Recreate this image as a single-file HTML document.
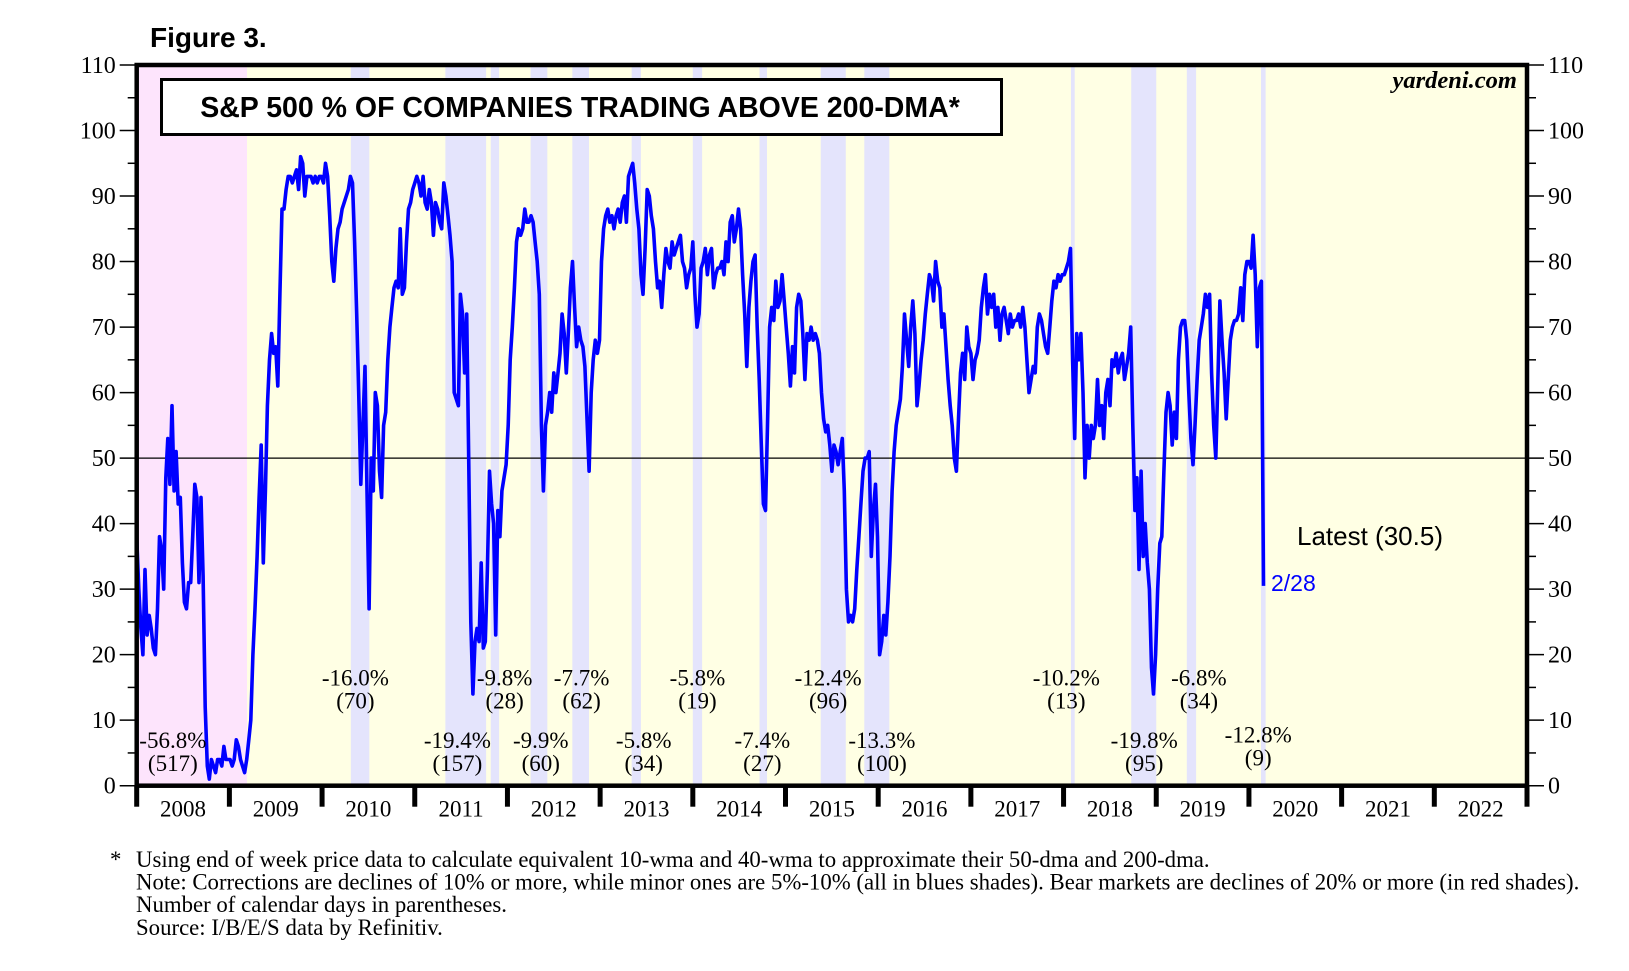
<!DOCTYPE html>
<html><head><meta charset="utf-8"><style>
html,body{margin:0;padding:0;background:#fff;}
svg{display:block;}
</style></head><body>
<svg id="chart" width="1629" height="971" viewBox="0 0 1629 971" xmlns="http://www.w3.org/2000/svg">
<g id="bg"></g>
<g id="bands"></g>
<g id="grid"></g>
<g id="series"></g>
<g id="annos"></g>
<g id="axes"></g>
<text x="150" y="47" font-family="Liberation Sans, sans-serif" font-weight="bold" font-size="28">Figure 3.</text>
<rect x="161.5" y="79.5" width="840" height="55" fill="#fff" stroke="#000" stroke-width="3"/>
<text x="580" y="117" text-anchor="middle" font-family="Liberation Sans, sans-serif" font-weight="bold" font-size="28.5">S&amp;P 500 % OF COMPANIES TRADING ABOVE 200-DMA*</text>
<text x="1517" y="88" text-anchor="end" font-family="Liberation Serif, serif" font-style="italic" font-weight="bold" font-size="24.5">yardeni.com</text>
<text x="1297" y="545" font-family="Liberation Sans, sans-serif" font-size="26">Latest (30.5)</text>
<text x="1271" y="591" fill="#0000ff" font-family="Liberation Sans, sans-serif" font-size="23">2/28</text>
<g font-family="Liberation Serif, serif" font-size="22.8">
<text x="110" y="867">*</text>
<text x="136" y="867">Using end of week price data to calculate equivalent 10-wma and 40-wma to approximate their 50-dma and 200-dma.</text>
<text x="136" y="889.5">Note: Corrections are declines of 10% or more, while minor ones are 5%-10% (all in blues shades). Bear markets are declines of 20% or more (in red shades).</text>
<text x="136" y="912">Number of calendar days in parentheses.</text>
<text x="136" y="935">Source: I/B/E/S data by Refinitiv.</text>
</g>
</svg>
<script>
const startYear = 2008.0;
const weekStep = 0.022389;
const values = [38,30,24,20,33,23,26,24,21,20,27,38,36,30,47,53,46,58,45,51,43,44,34,28,27,31,31,38,46,44,31,44,32,12,3,1,4,3,2,4,4,3,6,4,4,4,3,4,7,6,4,3,2,4,7,10,20,27,35,44,52,34,45,58,
65,69,66,67,61,75,88,88,91,93,93,92,93,94,91,96,95,90,93,93,93,92,93,92,93,93,92,95,93,87,80,77,82,85,86,88,89,90,91,93,92,83,72,60,46,55,64,45,27,50,45,60,58,48,44,55,57,65,70,73,76,77,76,85,75,76,83,88,89,91,92,93,92,90,93,89,88,91,89,84,89,88,86,85,92,90,87,84,80,60,59,58,75,72,63,72,50,25,14,22,24,22,34,21,22,33,48,43,40,23,42,38,45,47,49,55,65,70,76,83,85,84,85,88,86,86,87,86,83,80,75,55,45,55,57,60,57,63,60,63,66,72,69,63,69,76,80,73,67,70,68,67,64,56,48,60,65,68,66,68,80,85,87,88,86,87,85,87,88,86,89,90,86,93,94,95,92,88,85,78,75,82,91,90,87,85,80,76,77,73,78,82,80,79,83,81,82,83,84,80,79,76,78,79,83,75,70,72,79,80,82,78,81,82,76,78,79,79,80,78,83,80,86,87,83,85,88,85,78,72,64,73,77,80,81,70,62,52,43,42,55,70,73,71,77,73,74,78,74,70,66,61,67,63,73,75,74,69,62,69,68,70,68,69,68,66,60,56,54,55,52,48,52,51,49,51,53,45,30,25,26,25,27,33,38,43,48,50,50,51,35,42,46,38,20,22,26,23,28,35,45,51,55,57,59,64,72,68,64,70,74,69,58,61,65,68,72,75,78,77,74,80,77,76,70,72,67,62,58,55,50,48,56,63,66,62,70,67,66,62,65,66,68,73,76,78,72,75,73,75,70,73,68,72,73,71,69,72,70,71,71,72,70,73,70,65,60,62,64,63,70,72,71,69,67,66,70,74,77,76,78,77,78,78,79,80,82,65,53,69,65,69,60,47,55,50,55,53,55,62,55,58,53,60,62,58,65,64,66,63,65,66,62,64,66,70,55,42,47,33,48,35,40,34,30,18,14,20,30,37,38,48,57,60,58,52,57,53,65,70,71,71,68,60,53,49,55,62,68,70,72,75,73,75,63,55,50,62,74,68,63,56,62,68,70,71,71,72,76,71,78,80,80,79,84,78,67,76,77,30.5];
const yTicks = [0,10,20,30,40,50,60,70,80,90,100,110];
const yearLabels = ["2008","2009","2010","2011","2012","2013","2014","2015","2016","2017","2018","2019","2020","2021","2022"];
const bearBands = [[2008.0,2009.19]];
const correctionBands = [[2010.31,2010.51],[2011.33,2011.77],[2011.82,2011.91],[2012.25,2012.43],[2012.70,2012.88],[2013.34,2013.44],[2014.0,2014.10],[2014.72,2014.80],[2015.38,2015.65],[2015.85,2016.12],[2018.08,2018.12],[2018.73,2019.0],[2019.33,2019.43],[2020.13,2020.18]];
const annoYears = [2008.39,2010.36,2011.46,2011.97,2012.36,2012.80,2013.47,2014.05,2014.75,2015.46,2016.04,2018.03,2018.87,2019.46,2020.10];
const annoPct = ["-56.8%","-16.0%","-19.4%","-9.8%","-9.9%","-7.7%","-5.8%","-5.8%","-7.4%","-12.4%","-13.3%","-10.2%","-19.8%","-6.8%","-12.8%"];
const annoDays = ["(517)","(70)","(157)","(28)","(60)","(62)","(34)","(19)","(27)","(96)","(100)","(13)","(95)","(34)","(9)"];
const annoLevel = [7,16.5,7,16.5,7,16.5,7,16.5,7,16.5,7,16.5,7,16.5,7.8];

const NS="http://www.w3.org/2000/svg";
const X0=136.7, X1=1527, Y0=785.7, YTOP=65;
const xMin=2008, xMax=2023, yMax=110;
const xs=v=>X0+(v-xMin)/(xMax-xMin)*(X1-X0);
const ys=v=>Y0-v/yMax*(Y0-YTOP);
function mk(tag,attrs,parent){const e=document.createElementNS(NS,tag);for(const k in attrs)e.setAttribute(k,attrs[k]);parent.appendChild(e);return e;}
const bg=document.getElementById('bg'),bands=document.getElementById('bands'),grid=document.getElementById('grid'),series=document.getElementById('series'),annos=document.getElementById('annos'),axes=document.getElementById('axes');

let r=mk('rect',{x:X0,y:YTOP,width:X1-X0,height:Y0-YTOP,fill:'#ffffe4'},bg);



bearBands.forEach(b=>{const e=mk('rect',{x:xs(b[0]),y:YTOP,width:xs(b[1])-xs(b[0]),height:Y0-YTOP,fill:'#fde4fc'},bands);

});
correctionBands.forEach(b=>{const e=mk('rect',{x:xs(b[0]),y:YTOP,width:xs(b[1])-xs(b[0]),height:Y0-YTOP,fill:'#e4e4fc'},bands);

});

let fifty=mk('line',{x1:X0,x2:X1,y1:ys(50),y2:ys(50),stroke:'#000','stroke-width':1.2},grid);



const pts=values.map((v,i)=>xs(startYear+i*weekStep).toFixed(1)+','+ys(v).toFixed(1)).join(' ');
let pl=mk('polyline',{points:pts,fill:'none',stroke:'#0000ff','stroke-width':3.6,'stroke-linejoin':'round'},series);



annoYears.forEach((yr,i)=>{const g=mk('g',{'font-family':'Liberation Serif, serif','font-size':23,'text-anchor':'middle'},annos);


const t1=mk('text',{x:xs(yr),y:ys(annoLevel[i])+8},g);t1.textContent=annoPct[i];
const t2=mk('text',{x:xs(yr),y:ys(annoLevel[i]-3.5)+8},g);t2.textContent=annoDays[i];});

let fr=mk('rect',{x:X0,y:YTOP,width:X1-X0,height:Y0-YTOP,fill:'none',stroke:'#000','stroke-width':4.5},axes);


for(let v=0;v<=110;v+=5){const major=v%10===0;
 const l=mk('line',{x1:X0-(major?17:9),x2:X0,y1:ys(v),y2:ys(v),stroke:'#000','stroke-width':1.5},axes);
 
 
 const l2=mk('line',{x1:X1,x2:X1+(major?17:9),y1:ys(v),y2:ys(v),stroke:'#000','stroke-width':1.5},axes);
 
 }
yTicks.forEach(v=>{const t=mk('text',{x:X0-21,y:ys(v)+8,'text-anchor':'end','font-family':'Liberation Serif, serif','font-size':24},axes);t.textContent=v;


const t2=mk('text',{x:X1+21,y:ys(v)+8,'font-family':'Liberation Serif, serif','font-size':24},axes);t2.textContent=v;

});
for(let k=0;k<=yearLabels.length;k++){const x=xs(xMin+k);
 const l=mk('line',{x1:x,x2:x,y1:Y0,y2:Y0+21,stroke:'#000','stroke-width':5},axes);
 
 }
yearLabels.forEach((lab,k)=>{const t=mk('text',{x:xs(xMin+k+0.5),y:Y0+31,'text-anchor':'middle','font-family':'Liberation Serif, serif','font-size':23},axes);t.textContent=lab;

});
</script>
</body></html>
